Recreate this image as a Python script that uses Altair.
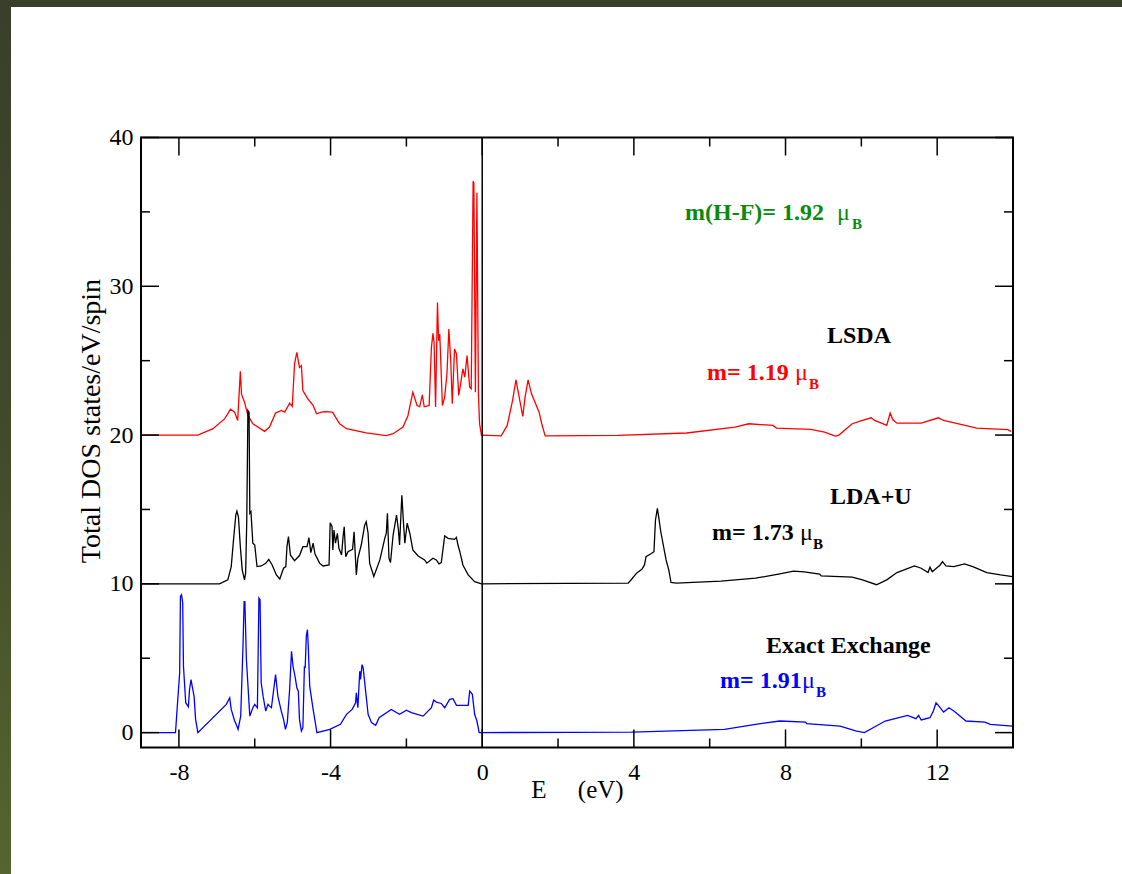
import altair as alt
import pandas as pd

# Total density of states, shifted by 20 (LSDA), 10 (LDA+U) and 0 (exact exchange)
lsda_e = [-9.0, -7.5, -7.10, -6.79, -6.64, -6.53, -6.45, -6.38, -6.35, -6.27, -6.18, -6.05,
          -5.74, -5.61, -5.45, -5.30, -5.21, -5.08, -5.01, -4.95, -4.89, -4.82, -4.77, -4.73,
          -4.60, -4.46, -4.37, -4.24, -4.16, -3.95, -3.76, -3.58, -3.06, -2.53, -2.35, -2.09,
          -1.96, -1.83, -1.72, -1.65, -1.58, -1.53, -1.40, -1.34, -1.30, -1.27, -1.23, -1.18,
          -1.15, -1.12, -1.05, -0.99, -0.93, -0.88, -0.83, -0.79, -0.73, -0.68, -0.62, -0.57,
          -0.51, -0.46, -0.40, -0.33, -0.29, -0.24, -0.22, -0.18, -0.14, -0.10, -0.07, -0.02,
          0.0, 0.50, 0.66, 0.80, 0.89, 0.95, 1.07, 1.13, 1.21, 1.30, 1.50, 1.57, 1.66, 3.57,
          5.39, 6.67, 7.03, 7.67, 7.76, 8.67, 9.03, 9.31, 9.40, 9.76, 10.03, 10.26, 10.35,
          10.53, 10.67, 10.76, 10.83, 10.94, 11.58, 12.03, 12.17, 12.85, 13.04, 13.86, 13.95]
lsda_dos = [20.0, 20.0, 20.43, 21.1, 21.74, 21.54, 20.98, 24.29, 22.77, 22.21, 21.32, 20.76,
            20.25, 20.54, 21.48, 21.66, 21.54, 22.15, 21.93, 24.78, 25.56, 24.55, 24.67, 22.99,
            22.43, 21.99, 21.43, 21.54, 21.58, 21.54, 20.76, 20.43, 20.14, 19.96, 20.09, 20.54,
            21.3, 22.88, 22.0, 21.9, 22.7, 21.9, 21.99, 25.89, 26.83, 26.23, 21.88, 28.91,
            26.34, 26.79, 21.99, 22.55, 24.11, 27.12, 25.0, 22.1, 25.78, 25.45, 22.66, 23.44,
            24.45, 23.89, 25.34, 23.21, 23.11, 37.06, 36.95, 22.88, 36.28, 22.77, 20.76, 19.98,
            20.0, 19.95, 20.65, 22.32, 23.71, 22.88, 21.25, 22.55, 23.71, 22.77, 21.54, 20.76, 19.95, 19.98,
            20.14, 20.54, 20.76, 20.65, 20.47, 20.38, 20.2, 19.93, 19.98, 20.76, 20.98, 21.16, 20.98,
            20.8, 20.65, 21.48, 21.03, 20.8, 20.8, 21.16, 20.98, 20.58, 20.47, 20.36, 20.25]

ldau_e = [-9.0, -6.93, -6.71, -6.62, -6.56, -6.50, -6.47, -6.43, -6.38, -6.33, -6.27, -6.24,
          -6.21, -6.18, -6.15, -6.13, -6.10, -6.05, -6.00, -5.94, -5.83, -5.71, -5.63, -5.54,
          -5.43, -5.34, -5.24, -5.18, -5.15, -5.11, -5.06, -4.95, -4.82, -4.73, -4.62, -4.57,
          -4.52, -4.46, -4.41, -4.29, -4.20, -4.04, -4.01, -3.96, -3.94, -3.91, -3.87, -3.82,
          -3.78, -3.71, -3.67, -3.64, -3.60, -3.54, -3.42, -3.38, -3.32, -3.28, -3.19, -3.10,
          -3.06, -3.01, -2.97, -2.86, -2.70, -2.57, -2.53, -2.50, -2.46, -2.42, -2.35, -2.26,
          -2.21, -2.18, -2.12, -2.07, -2.04, -1.98, -1.91, -1.83, -1.69, -1.52, -1.46, -1.30,
          -1.21, -1.14, -1.08, -0.99, -0.90, -0.73, -0.68, -0.64, -0.59, -0.51, -0.37, -0.20,
          -0.02, 3.85, 3.94, 4.07, 4.21, 4.28, 4.32, 4.44, 4.53, 4.57, 4.62, 4.66, 4.71, 4.85,
          4.92, 4.98, 5.12, 6.30, 7.21, 7.85, 8.21, 8.49, 8.90, 8.94, 9.76, 10.03, 10.40, 10.67,
          10.94, 11.40, 11.58, 11.76, 11.81, 11.87, 12.08, 12.14, 12.23, 12.44, 12.72, 12.94,
          13.31, 13.67, 13.99]
ldau_dos = [10.0, 10.0, 10.27, 11.16, 12.95, 14.62, 14.89, 14.51, 12.5, 10.94, 10.27, 10.72,
            14.29, 21.66, 21.54, 14.74, 14.85, 12.73, 12.61, 11.16, 11.2, 11.38, 11.65, 11.27,
            10.6, 10.33, 11.05, 11.16, 12.5, 13.17, 11.94, 11.56, 11.9, 12.5, 12.5, 13.1,
            12.1, 12.73, 12.0, 11.39, 11.2, 11.27, 14.11, 13.84, 12.28, 13.62, 12.73, 13.4,
            12.39, 11.94, 13.17, 13.84, 11.83, 12.16, 12.32, 13.5, 10.6, 11.72, 12.61, 13.95,
            14.17, 13.4, 11.39, 10.49, 11.61, 13.06, 13.4, 14.74, 11.72, 11.43, 13.28, 14.62,
            13.62, 12.61, 15.96, 13.84, 12.73, 14.07, 13.4, 12.28, 11.87, 11.61, 11.39, 11.72,
            11.61, 11.34, 11.43, 13.22, 13.06, 12.99, 13.13, 12.61, 12.16, 11.27, 10.6, 10.15,
            10.0, 10.05, 10.31, 10.72, 10.98, 11.27, 11.83, 12.01, 12.16, 14.29, 15.07, 14.4, 13.5, 11.61,
            10.94, 10.09, 10.05, 10.18, 10.38, 10.67, 10.85, 10.8, 10.65, 10.54, 10.45, 10.27, 9.94, 10.27,
            10.76, 11.2, 11.05, 10.76, 11.12, 10.82, 11.27, 11.49, 11.2, 11.16, 11.34, 11.16,
            10.76, 10.6, 10.49]

exx_e = [-9.0, -8.09, -8.03, -7.98, -7.96, -7.93, -7.90, -7.88, -7.82, -7.75, -7.72, -7.68,
         -7.65, -7.60, -7.56, -7.50, -6.75, -6.66, -6.62, -6.53, -6.49, -6.44, -6.37, -6.31,
         -6.28, -6.26, -6.22, -6.13, -6.05, -6.00, -5.93, -5.89, -5.86, -5.83, -5.78, -5.71,
         -5.65, -5.61, -5.56, -5.50, -5.45, -5.39, -5.30, -5.24, -5.19, -5.14, -5.08, -5.03,
         -4.99, -4.93, -4.89, -4.85, -4.82, -4.77, -4.73, -4.69, -4.67, -4.64, -4.61, -4.59,
         -4.55, -4.46, -4.36, -4.02, -3.74, -3.58, -3.43, -3.34, -3.32, -3.28, -3.23, -3.21,
         -3.17, -3.14, -3.01, -2.92, -2.81, -2.72, -2.40, -2.18, -2.00, -1.87, -1.56, -1.34,
         -1.28, -1.21, -1.08, -0.99, -0.86, -0.77, -0.68, -0.51, -0.37, -0.33, -0.26, -0.20,
         -0.14, -0.08, 3.94, 6.39, 7.21, 7.85, 8.53, 8.56, 9.44, 9.85, 10.08, 10.31, 10.63,
         11.22, 11.44, 11.51, 11.58, 11.81, 11.90, 11.97, 12.03, 12.17, 12.31, 12.44, 12.76,
         13.26, 13.40, 13.99]
exx_dos = [0.0, 0.0, 2.23, 4.02, 9.15, 9.26, 8.71, 4.46, 2.01, 1.74, 2.9, 3.57,
           3.12, 2.45, 0.89, 0.0, 1.9, 2.34, 1.56, 0.78, 0.56, 0.22, 1.11, 5.8,
           8.81, 8.81, 4.91, 1.11, 1.67, 1.9, 1.67, 9.04, 8.93, 3.35, 2.45, 1.45,
           1.9, 1.78, 1.67, 2.9, 3.9, 2.45, 1.45, 0.89, 0.22, 0.71, 2.9, 5.47,
           4.46, 3.68, 3.01, 2.79, 0.89, 0.11, 0.33, 4.46, 4.35, 6.47, 6.92, 5.91,
           3.12, 1.56, 0.0, 0.22, 0.56, 1.23, 1.56, 2.01, 2.68, 1.67, 4.13, 3.57,
           4.57, 4.35, 1.23, 0.67, 0.49, 1.0, 1.56, 1.23, 1.51, 1.34, 1.11, 1.67,
           2.18, 2.05, 1.96, 1.67, 2.23, 2.28, 1.83, 1.83, 1.83, 2.79, 2.57, 1.23,
           0.78, 0.0, 0.04, 0.22, 0.56, 0.78, 0.71, 0.6, 0.44, 0.11, 0.0, 0.33, 0.78,
           1.16, 0.94, 1.16, 0.85, 1.0, 1.45, 2.01, 1.83, 1.38, 1.67, 1.45, 0.78,
           0.71, 0.56, 0.44]

x_major = [-8, -4, 0, 4, 8, 12]
x_minor = [-6, -2, 2, 6, 10]
y_major = [0, 10, 20, 30, 40]
y_minor = [5, 15, 25, 35]

W, H = 872, 610
LEFT, TOP = 141, 137.5
FONT = "Liberation Serif"

x_scale = alt.Scale(domain=[-9, 14], nice=False, zero=False)
y_scale = alt.Scale(domain=[-1, 40], nice=False, zero=False)

x_axis = alt.Axis(values=x_major, title="E\u00a0\u00a0\u00a0\u00a0\u00a0(eV)", tickSize=0, domain=False,
                  grid=False, labelFont=FONT, labelFontSize=24, labelColor="black", labelPadding=13,
                  labelExpr="'' + datum.value",
                  labelFlush=False, labelOverlap=False, titleFont=FONT, titleFontSize=25,
                  titleFontWeight="normal", titleColor="black", titleBaseline="alphabetic", titleY=50,
                  zindex=1)
y_axis = alt.Axis(values=y_major, title="Total DOS states/eV/spin", tickSize=0, domain=False,
                  grid=False, labelFont=FONT, labelFontSize=24, labelColor="black", labelPadding=8,
                  labelFlush=False, labelOverlap=False, titleFont=FONT, titleFontSize=28,
                  titleFontWeight="normal", titleColor="black", titleAngle=270,
                  titleBaseline="alphabetic", titleAlign="center", titleX=-42, titleY=283,
                  zindex=1)

one = pd.DataFrame({"k": [0]})


def px(x):
    return x - LEFT


def py(y):
    return y - TOP


def curve(e, d, color):
    df = pd.DataFrame({"E": e, "DOS": d})
    return alt.Chart(df).mark_line(color=color, strokeWidth=1.3, clip=True).encode(
        x=alt.X("E:Q", scale=x_scale, axis=x_axis),
        y=alt.Y("DOS:Q", scale=y_scale, axis=y_axis),
    )


def xticks(vals, y0, y1):
    return alt.Chart(pd.DataFrame({"E": vals})).mark_rule(color="black", strokeWidth=1.5).encode(
        x=alt.X("E:Q", scale=x_scale, axis=x_axis), y=alt.value(y0), y2=alt.value(y1))


def yticks(vals, x0, x1):
    return alt.Chart(pd.DataFrame({"DOS": vals})).mark_rule(color="black", strokeWidth=1.5).encode(
        y=alt.Y("DOS:Q", scale=y_scale, axis=y_axis), x=alt.value(x0), x2=alt.value(x1))


def label(text, x, y, color, size=24, weight="bold"):
    return alt.Chart(one).mark_text(text=text, font=FONT, fontSize=size, fontWeight=weight,
                                    color=color, align="left", baseline="alphabetic").encode(
        x=alt.value(px(x)), y=alt.value(py(y)))


# page: white sheet over a dark olive border
sheet = alt.Chart(one).mark_rect(color="white").encode(
    x=alt.value(px(11)), x2=alt.value(px(1122)), y=alt.value(py(7)), y2=alt.value(py(874)))
edge = alt.Chart(one).mark_rect(
    color=alt.LinearGradient(gradient="linear", x1=0, x2=0, y1=0, y2=1,
                             stops=[alt.GradientStop(color="#393f2a", offset=0),
                                    alt.GradientStop(color="#414a2b", offset=0.5),
                                    alt.GradientStop(color="#56652f", offset=1)])).encode(
    x=alt.value(px(0)), x2=alt.value(px(11)), y=alt.value(py(0)), y2=alt.value(py(874)))

fermi = alt.Chart(pd.DataFrame({"E": [0]})).mark_rule(color="black", strokeWidth=1.5).encode(
    x=alt.X("E:Q", scale=x_scale, axis=x_axis), y=alt.value(0), y2=alt.value(H))

frame = alt.Chart(one).mark_rect(fillOpacity=0, stroke="black", strokeWidth=2).encode(
    x=alt.value(0), x2=alt.value(W), y=alt.value(0), y2=alt.value(H))

ticks = [
    xticks(x_major, H, H - 18), xticks(x_minor, H, H - 9),
    xticks(x_major, 0, 18), xticks(x_minor, 0, 9),
    yticks(y_major, 0, 18), yticks(y_minor, 0, 9),
    yticks(y_major, W - 18, W), yticks(y_minor, W - 9, W),
]

labels = [
    label("m(H-F)= 1.92", 685, 220, "#0a8a0a"),
    label("\u03bc", 837, 220, "#0a8a0a", weight="normal"),
    label("B", 852, 229, "#0a8a0a", size=15),
    label("LSDA", 827, 343, "black"),
    label("m= 1.19", 707, 380, "red"),
    label("\u03bc", 795, 380, "red", weight="normal"),
    label("B", 809, 389, "red", size=15),
    label("LDA+U", 830, 504, "black"),
    label("m= 1.73", 712, 540, "black"),
    label("\u03bc", 800, 540, "black", weight="normal"),
    label("B", 813, 549, "black", size=15),
    label("Exact Exchange", 766, 653, "black"),
    label("m= 1.91", 720, 688, "blue"),
    label("\u03bc", 802, 688, "blue", weight="normal"),
    label("B", 816, 697, "blue", size=15),
]

chart = alt.layer(
    sheet, edge,
    curve(lsda_e, lsda_dos, "#ff0000"),
    curve(ldau_e, ldau_dos, "#000000"),
    curve(exx_e, exx_dos, "#0000ff"),
    fermi, *ticks, frame, *labels,
).properties(
    width=W, height=H, autosize="none",
    padding={"left": LEFT, "top": TOP, "right": 1122 - LEFT - W, "bottom": 874 - TOP - H},
).configure(background="#393f2a").configure_view(stroke=None)

chart.save("out.html", embed_options={"renderer": "svg", "actions": False})
